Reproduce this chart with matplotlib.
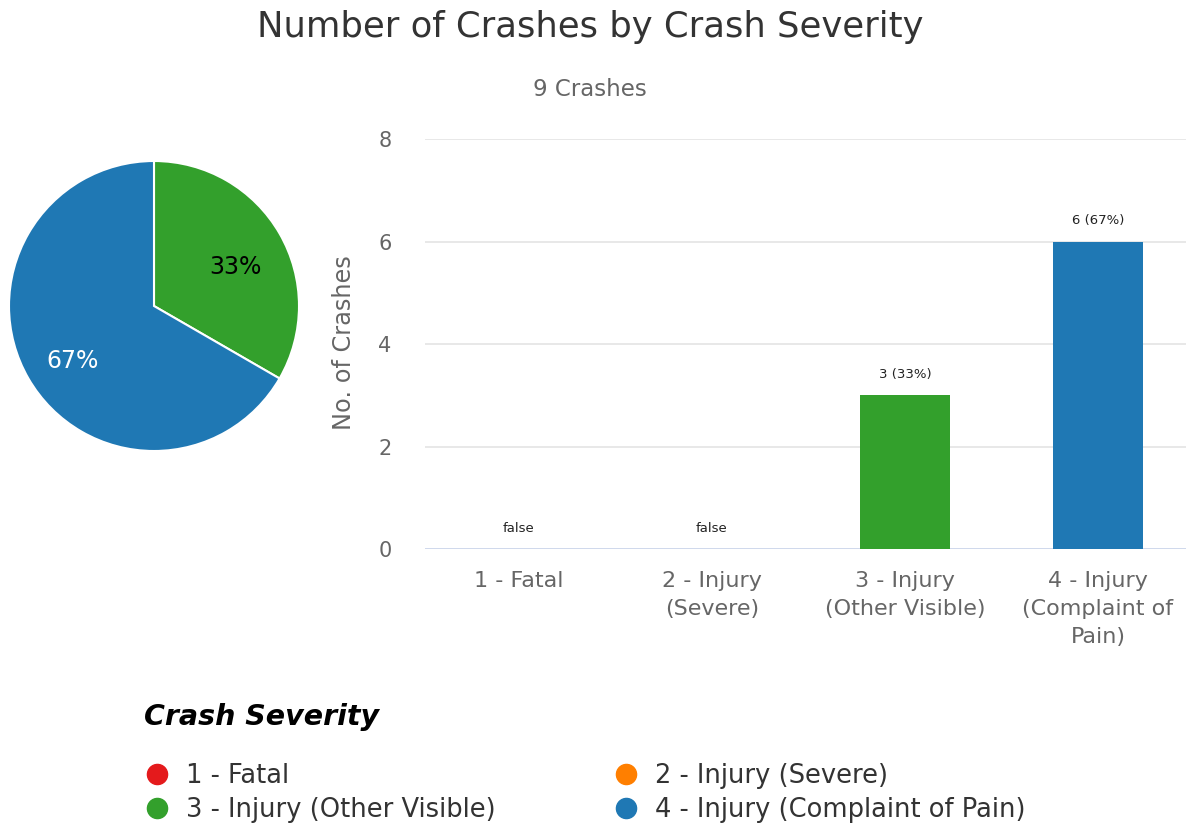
import matplotlib
matplotlib.use("Agg")
import matplotlib.pyplot as plt
from matplotlib.lines import Line2D

categories = ["1 - Fatal", "2 - Injury (Severe)", "3 - Injury (Other Visible)", "4 - Injury (Complaint of Pain)"]
tick_labels = ["1 - Fatal", "2 - Injury\n(Severe)", "3 - Injury\n(Other Visible)", "4 - Injury\n(Complaint of\nPain)"]
counts = [0, 0, 3, 6]
colors = ["#e41a1c", "#ff7f00", "#33a02c", "#1f78b4"]
title = "Number of Crashes by Crash Severity"
subtitle = "9 Crashes"
y_ticks = [0, 2, 4, 6, 8]

W, H = 1186, 826
fig = plt.figure(figsize=(W / 100, H / 100), dpi=100)
plt.rcParams['font.family'] = ['DejaVu Sans']

def fx(px):
    return px / W

def fy(py):
    return 1 - py / H

total = sum(counts)

# Title and subtitle
fig.text(fx(590), fy(27), title, ha="center", va="center", fontsize=25.5, color="#333333")
fig.text(fx(590), fy(90), subtitle, ha="center", va="center", fontsize=16.5, color="#666666")

# Pie
cx, cy, r = 154, 306, 145
pad = 152
pax = fig.add_axes([fx(cx - pad), fy(cy + pad), (2 * pad) / W, (2 * pad) / H])
pie_vals = [c for c in counts if c > 0]
pie_cols = [col for c, col in zip(counts, colors) if c > 0]
wedges, texts, autotexts = pax.pie(pie_vals, colors=pie_cols, startangle=90, counterclock=False,
                                   autopct=lambda p: f"{p:.0f}%", pctdistance=0.65,
                                   wedgeprops=dict(edgecolor="white", linewidth=1.5),
                                   textprops=dict(fontsize=17))
autotexts[0].set_color("black")
autotexts[1].set_color("white")
for t in autotexts:
    px_, py_ = t.get_position()
    t.set_position((px_, py_ - 8 / r))
lim = pad / r
pax.set_xlim(-lim, lim)
pax.set_ylim(-lim, lim)
pax.set_aspect("equal")
pax.axis("off")

# Bar chart
left_px, right_px, top_px, bot_px = 425, 1186, 139, 549
bax = fig.add_axes([fx(left_px), fy(bot_px), (right_px - left_px) / W, (bot_px - top_px) / H])
x = list(range(len(categories)))
bax.bar(x, counts, width=0.47, color=colors, zorder=3)
bax.set_ylim(0, 8)
xmin = -(519 - left_px) / 193
bax.set_xlim(xmin, xmin + (right_px - left_px) / 193)
bax.set_yticks(y_ticks)
bax.set_yticklabels([str(t) for t in y_ticks])
for t in y_ticks:
    bax.axhline(t, color="#ccd6eb" if t == 0 else "#e6e6e6", linewidth=1.3, zorder=1)
for s in bax.spines.values():
    s.set_visible(False)
bax.tick_params(axis="y", length=0, pad=24, labelsize=15, labelcolor="#666666")
bax.set_xticks(x)
bax.set_xticklabels(tick_labels, linespacing=1.48)
bax.tick_params(axis="x", length=0, pad=16, labelsize=16, labelcolor="#666666")
for lbl in bax.get_xticklabels():
    lbl.set_verticalalignment("top")

for xi, c in zip(x, counts):
    if c == 0:
        s = "false"
    else:
        s = f"{c} ({round(100 * c / total)}%)"
    bax.text(xi, c + 0.28, s, ha="center", va="bottom", fontsize=9.5, color="#222222")

fig.text(fx(344), fy(343), "No. of Crashes", rotation=90, ha="center", va="center",
         fontsize=17.3, color="#666666")

# Legend
handles = [Line2D([0], [0], marker="o", linestyle="", markerfacecolor=c, markeredgecolor=c,
                  markersize=14.5) for c in colors]
order = [0, 2, 1, 3]
leg = fig.legend([handles[i] for i in order], [categories[i] for i in order], ncol=2,
                 loc="upper left", bbox_to_anchor=(fx(144), fy(703)), frameon=False,
                 title="Crash Severity", alignment="left", fontsize=18.5,
                 handletextpad=0.62, columnspacing=4.6, labelspacing=0.32, handlelength=1.0,
                 borderaxespad=0, borderpad=0)
leg.get_title().set_fontsize(20.5)
leg.get_title().set_fontweight("bold")
leg.get_title().set_fontstyle("italic")
for t in leg.get_texts():
    t.set_color("#333333")
leg._legend_box.sep = 23

fig.savefig("out.png", dpi=100)
